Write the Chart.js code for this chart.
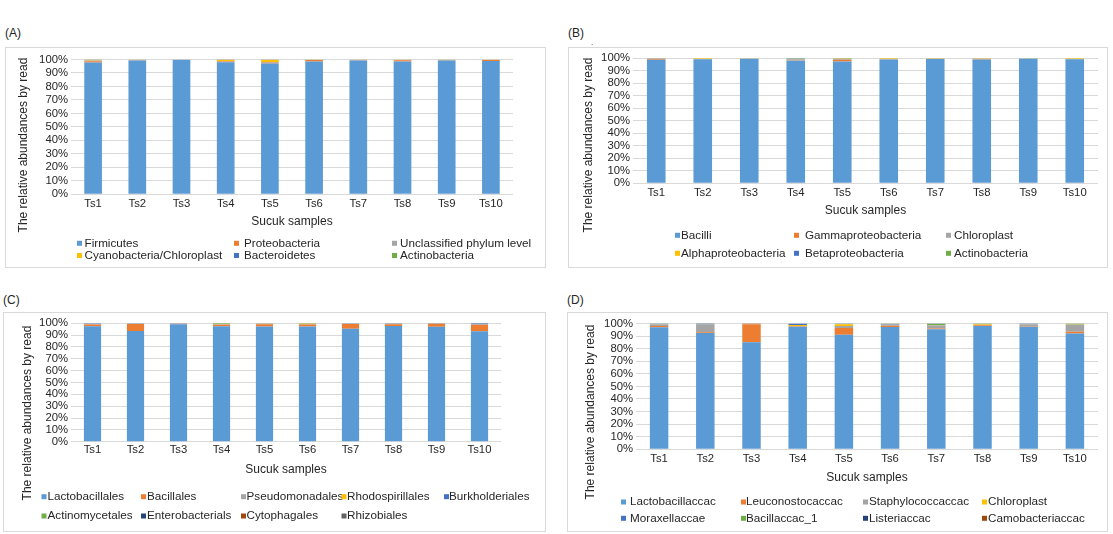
<!DOCTYPE html>
<html><head><meta charset="utf-8">
<script src="https://cdn.jsdelivr.net/npm/chart.js@4.4.1/dist/chart.umd.min.js"></script>
<style>
html,body{margin:0;padding:0;background:#fff;}
body{width:1113px;height:534px;position:relative;overflow:hidden;font-family:"Liberation Sans",Arial,sans-serif;}
.plab{position:absolute;font-size:12px;color:#262626;line-height:14px;white-space:nowrap;}
.box{position:absolute;border:1px solid #d9d9d9;box-sizing:border-box;}
canvas{position:absolute;}
</style></head><body>
<script>
// ---------- data ----------
const samples = ['Ts1','Ts2','Ts3','Ts4','Ts5','Ts6','Ts7','Ts8','Ts9','Ts10'];
const yTickValues = [0,10,20,30,40,50,60,70,80,90,100];
const yTickLabels = ['0%','10%','20%','30%','40%','50%','60%','70%','80%','90%','100%'];
const xAxisTitle = 'Sucuk samples';
const yAxisTitle = 'The relative abundances by read';

// (A) phylum
const phylumNames = ['Firmicutes','Proteobacteria','Unclassified phylum level','Cyanobacteria/Chloroplast','Bacteroidetes','Actinobacteria'];
const firmicutes        = [97.8, 99.3, 99.8, 98.0, 97.0, 98.5, 99.3, 98.5, 99.2, 98.8];
const proteobacteria    = [0.9, 0.2, 0.1, 0.5, 0.6, 1.2, 0.2, 0.9, 0.2, 0.9];
const unclassifiedPhylum= [0.5, 0.4, 0.05, 0.3, 0.6, 0.2, 0.3, 0.4, 0.5, 0.2];
const cyanobacteria     = [0.7, 0.05, 0.02, 1.1, 1.7, 0.05, 0.15, 0.15, 0.05, 0.05];
const bacteroidetes     = [0.05, 0.03, 0.02, 0.05, 0.05, 0.03, 0.03, 0.03, 0.03, 0.03];
const actinobacteriaPhy = [0.05, 0.02, 0.01, 0.05, 0.05, 0.02, 0.02, 0.02, 0.02, 0.02];

// (B) class
const classNames = ['Bacilli','Gammaproteobacteria','Chloroplast','Alphaproteobacteria','Betaproteobacteria','Actinobacteria'];
const bacilli             = [98.8, 99.3, 99.6, 98.0, 97.5, 99.0, 99.4, 99.0, 99.6, 99.3];
const gammaproteobacteria = [0.6, 0.1, 0.1, 0.3, 1.3, 0.3, 0.1, 0.4, 0.1, 0.1];
const chloroplastClass    = [0.3, 0.1, 0.2, 1.0, 0.6, 0.1, 0.1, 0.3, 0.1, 0.1];
const alphaproteobacteria = [0.1, 0.5, 0.05, 0.2, 0.2, 0.55, 0.35, 0.25, 0.05, 0.45];
const betaproteobacteria  = [0.15, 0, 0, 0.1, 0.1, 0, 0, 0, 0, 0];
const actinobacteriaCls   = [0.05, 0, 0.05, 0.4, 0.3, 0.05, 0.05, 0.05, 0.15, 0.05];

// (C) order
const orderNames = ['Lactobacillales','Bacillales','Pseudomonadales','Rhodospirillales','Burkholderiales','Actinomycetales','Enterobacterials','Cytophagales','Rhizobiales'];
const lactobacillales  = [97.5, 93.5, 99.3, 97.5, 97.3, 97.2, 95.5, 97.8, 97.0, 93.3];
const bacillales       = [1.5, 6.0, 0.3, 1.3, 2.0, 1.8, 4.0, 1.5, 2.6, 5.5];
const pseudomonadales  = [0.6, 0.3, 0.2, 0.5, 0.4, 0.5, 0.3, 0.3, 0.2, 0.4];
const rhodospirillales = [0.1, 0.1, 0.05, 0.1, 0.15, 0.1, 0.1, 0.1, 0.1, 0.1];
const burkholderiales  = [0.25, 0.05, 0.1, 0.1, 0.1, 0.1, 0.05, 0.05, 0.05, 0.65];
const actinomycetales  = [0.02, 0.02, 0.02, 0.45, 0.02, 0.25, 0.02, 0.2, 0.02, 0.02];
const enterobacterials = [0.01, 0.01, 0.01, 0.02, 0.01, 0.02, 0.01, 0.02, 0.01, 0.01];
const cytophagales     = [0.01, 0.01, 0.01, 0.02, 0.01, 0.02, 0.01, 0.02, 0.01, 0.01];
const rhizobiales      = [0.01, 0.01, 0.01, 0.01, 0.01, 0.01, 0.01, 0.01, 0.01, 0.01];

// (D) family
const familyNames = ['Lactobacillaccac','Leuconostocaccac','Staphylococcaccac','Chloroplast','Moraxellaccae','Bacillaccac_1','Listeriaccac','Camobacteriaccac'];
const lactobacillaccac  = [97.0, 92.5, 85.0, 97.5, 91.0, 97.2, 95.5, 98.0, 97.3, 92.0];
const leuconostocaccac  = [1.0, 0.5, 14.5, 0.3, 5.5, 1.0, 0.5, 0.7, 0.2, 1.5];
const staphylococcaccac = [1.5, 6.5, 0.2, 0.3, 1.5, 1.0, 2.5, 0.4, 2.0, 5.5];
const chloroplastFam    = [0.1, 0, 0, 0.7, 1.5, 0.1, 0.2, 0.5, 0.1, 0.2];
const moraxellaccae     = [0.3, 0.2, 0, 1.2, 0.3, 0.4, 0.1, 0, 0.4, 0.1];
const bacillaccac1      = [0.05, 0, 0, 0, 0.2, 0.3, 1.0, 0.4, 0, 0.7];
const listeriaccac      = [0.05, 0.3, 0, 0, 0, 0, 0.2, 0, 0, 0];
const camobacteriaccac  = [0, 0, 0.3, 0, 0, 0, 0, 0, 0, 0];

// ---------- styles / layout ----------
const palette = ['#5B9BD5','#ED7D31','#A5A5A5','#FFC000','#4472C4','#70AD47','#264478','#9E480E','#636363'];
const FONT = '"Liberation Sans", Arial, sans-serif';
const TEXT = '#262626';

const panels = [
  {label:'(A)', labPos:[5,26], box:[5,47,546,268], area:[71,59.5,513,194.3], yTitle:[24,145], tickY:204, xTitleY:221.7,
   rows:[243.3,255.5], sq:[77,234,392], tx:[84.5,244,400],
   names:phylumNames, series:[firmicutes,proteobacteria,unclassifiedPhylum,cyanobacteria,bacteroidetes,actinobacteriaPhy]},
  {label:'(B)', labPos:[568,26], box:[568,47,1108,268], area:[633,58.3,1098,183.3], yTitle:[589,145], tickY:193.3, xTitleY:211,
   rows:[235.3,253.3], sq:[675,794,946], tx:[681,805,954],
   names:classNames, series:[bacilli,gammaproteobacteria,chloroplastClass,alphaproteobacteria,betaproteobacteria,actinobacteriaCls]},
  {label:'(C)', labPos:[3,293], box:[3,312,546,532], area:[71,323.3,501,441.7], yTitle:[28,413], tickY:450, xTitleY:470,
   rows:[496.7,516], sq:[41.5,141,241,341.5,444], tx:[47.5,147,246.5,347,449],
   names:orderNames, series:[lactobacillales,bacillales,pseudomonadales,rhodospirillales,burkholderiales,actinomycetales,enterobacterials,cytophagales,rhizobiales]},
  {label:'(D)', labPos:[567,293], box:[567,312,1108,532], area:[636,323.5,1098,449.3], yTitle:[591,412], tickY:459.3, xTitleY:477.3,
   rows:[502,518.3], sq:[621,741,863,982], tx:[630,746,869,988],
   names:familyNames, series:[lactobacillaccac,leuconostocaccac,staphylococcaccac,chloroplastFam,moraxellaccae,bacillaccac1,listeriaccac,camobacteriaccac]}
];

// legend laid out in fixed columns + rotated y-axis title (Excel style)
const panelText = {
  id:'panelText',
  afterDraw(chart, args, o){
    const ctx = chart.ctx;
    ctx.save();
    ctx.font = o.font;
    ctx.textBaseline = 'middle';
    ctx.textAlign = 'left';
    const n = o.sq.length;
    chart.data.datasets.forEach((ds,i)=>{
      const c = i % n, r = Math.floor(i / n);
      const y = o.rows[r];
      ctx.fillStyle = ds.backgroundColor;
      ctx.fillRect(o.sq[c], y - 2.5, 5, 5);
      ctx.fillStyle = o.color;
      ctx.fillText(ds.label, o.tx[c], y);
    });
    ctx.restore();
    ctx.save();
    ctx.font = o.titleFont;
    ctx.fillStyle = o.color;
    ctx.textAlign = 'center';
    ctx.textBaseline = 'middle';
    ctx.translate(o.yTitle[0], o.yTitle[1]);
    ctx.rotate(-Math.PI/2);
    ctx.fillText(o.yTitleText, 0, 0);
    ctx.restore();
  }
};

const TICK_FS = 11.3, TITLE_FS = 12, LEG_FS = 11.7;

panels.forEach(p=>{
  const [L,T,R,B] = p.box;
  const W = R-L, H = B-T;
  const lab = document.createElement('div');
  lab.className='plab'; lab.textContent=p.label;
  lab.style.left=p.labPos[0]+'px'; lab.style.top=p.labPos[1]+'px';
  document.body.appendChild(lab);
  const box = document.createElement('div');
  box.className='box';
  Object.assign(box.style,{left:L+'px',top:T+'px',width:W+'px',height:H+'px'});
  document.body.appendChild(box);
  const cv = document.createElement('canvas');
  cv.width=W; cv.height=H;
  Object.assign(cv.style,{left:L+'px',top:T+'px',width:W+'px',height:H+'px'});
  document.body.appendChild(cv);

  const [aL,aT,aR,aB] = p.area;
  const tickLH = TICK_FS*1.2, titleLH = TITLE_FS*1.2;
  const xScaleH = (p.xTitleY - aB) + titleLH/2;

  new Chart(cv,{
    type:'bar',
    data:{
      labels: samples,
      datasets: p.series.map((s,i)=>({label:p.names[i], data:s, backgroundColor:palette[i], borderWidth:0,
        categoryPercentage:1, barPercentage:0.4}))
    },
    options:{
      responsive:false, animation:false,
      layout:{padding:{left:0, top:aT-T, right:R-aR, bottom:B-(aB+xScaleH)}},
      plugins:{legend:{display:false}, tooltip:{enabled:false},
        panelText:{font:LEG_FS+'px '+FONT, titleFont:TITLE_FS+'px '+FONT, color:TEXT,
          rows:p.rows.map(v=>v-T), sq:p.sq.map(v=>v-L), tx:p.tx.map(v=>v-L),
          yTitle:[p.yTitle[0]-L, p.yTitle[1]-T], yTitleText:yAxisTitle}},
      scales:{
        x:{stacked:true, grid:{display:false, drawTicks:false}, border:{display:false},
          ticks:{autoSkip:false, maxRotation:0, color:TEXT, font:{family:FONT,size:TICK_FS},
            padding:(p.tickY - aB) - tickLH/2},
          title:{display:true, text:xAxisTitle, color:TEXT, font:{family:FONT,size:TITLE_FS}, padding:{top:0,bottom:0}},
          afterFit(s){ s.height = xScaleH; }
        },
        y:{stacked:true, min:0, max:100,
          grid:{color:'#d9d9d9', lineWidth:1, drawTicks:false}, border:{display:false},
          ticks:{autoSkip:false, color:TEXT, font:{family:FONT,size:TICK_FS}, padding:3,
            callback:(v,i)=>yTickLabels[i]},
          afterBuildTicks(s){ s.ticks = yTickValues.map(v=>({value:v})); },
          title:{display:false},
          afterFit(s){ s.width = aL - L; }
        }
      }
    },
    plugins:[panelText]
  });
});

// small stray mark under (B) in the original figure
const dot = document.createElement('div');
dot.className='plab'; dot.textContent='.'; dot.style.fontSize='8px';
dot.style.left='591px'; dot.style.top='36px';
document.body.appendChild(dot);
</script>
</body></html>
